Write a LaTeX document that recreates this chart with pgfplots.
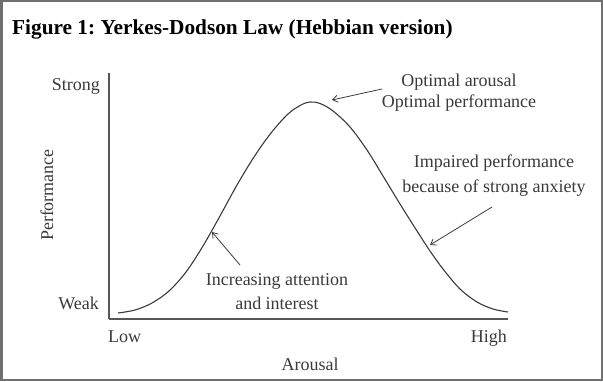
\documentclass[border=0pt]{standalone}
\usepackage{pgfplots}
\pgfplotsset{compat=1.18}
\usepackage{fontspec}
\setmainfont{Liberation Serif}
\usetikzlibrary{arrows.meta}
\definecolor{framegray}{HTML}{707070}
\definecolor{ink}{HTML}{3A3A3A}
\frenchspacing
\begin{document}
\begin{tikzpicture}[x=1pt,y=1pt]
\useasboundingbox (0,0) rectangle (603,381);
\draw[framegray, line width=2.5pt] (1.25,1.25) rectangle (601.75,379.75);
\node[anchor=base west, inner sep=0, font=\fontsize{21.3}{24}\selectfont\bfseries] at (12,346) {Figure 1: Yerkes-Dodson Law (Hebbian version)};
\begin{axis}[
  at={(109,62)}, anchor=south west,
  scale only axis, width=399pt, height=246pt,
  xmin=0, xmax=399, ymin=0, ymax=246,
  axis x line=bottom, axis y line=left,
  axis line style={-, ink!85, line width=1.1pt},
  xtick=\empty, ytick=\empty,
  clip=false,
  xlabel={Arousal}, ylabel={Performance},
  label style={font=\fontsize{18}{20}\selectfont, text=ink},
  xlabel style={at={(axis description cs:0.504,0)}, anchor=base, yshift=-51pt, inner sep=0},
  ylabel style={at={(axis description cs:-0.14,0.504)}, anchor=base, rotate=0, inner sep=0},
]
\addplot[smooth, tension=0.55, ink, line width=1.1pt] coordinates {
(9,6) (26,9) (43,16) (60,28) (77,47) (94,73) (111,103) (128,134) (145,162)
(162,186) (179,205) (192,214) (201,217) (211,215.5) (224,208) (241,192)
(258,169) (274,143) (291,115) (308,88) (321,68) (334,50) (351,30)
(368,17) (384,10) (399,7)
};
\begin{scope}[every node/.style={font=\fontsize{18}{20}\selectfont, text=ink, inner sep=0}]
\node[anchor=base] at (axis cs:350,232) {Optimal arousal};
\node[anchor=base] at (axis cs:350,211) {Optimal performance};
\node[anchor=base] at (axis cs:385,152) {Impaired performance};
\node[anchor=base] at (axis cs:385,127) {because of strong anxiety};
\node[anchor=base] at (axis cs:168,34) {Increasing attention};
\node[anchor=base] at (axis cs:168,10) {and interest};
\node[anchor=base west] at (axis cs:-1,-23) {Low};
\node[anchor=base east] at (axis cs:398,-23) {High};
\node[anchor=base east] at (axis cs:-9,228) {Strong};
\node[anchor=base east] at (axis cs:-10,10) {Weak};
\end{scope}
\draw[ink, line width=0.8pt, -{Straight Barb[length=5pt,width=7pt]}] (axis cs:273,230) -- (axis cs:223,219);
\draw[ink, line width=0.8pt, -{Straight Barb[length=5pt,width=7pt]}] (axis cs:383,112) -- (axis cs:321,74);
\draw[ink, line width=0.8pt, -{Straight Barb[length=5pt,width=7pt]}] (axis cs:131,54) -- (axis cs:103,87);
\end{axis}
\end{tikzpicture}
\end{document}
